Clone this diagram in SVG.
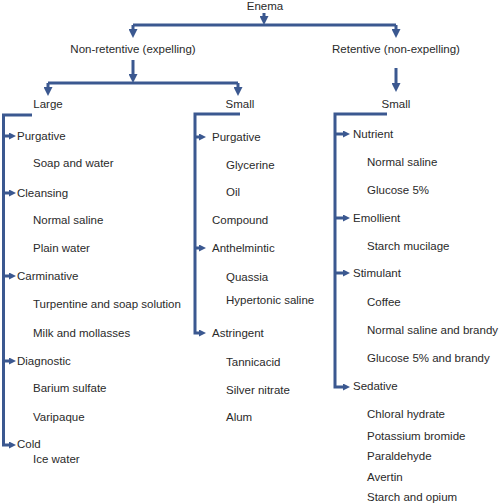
<svg xmlns="http://www.w3.org/2000/svg" width="500" height="504" viewBox="0 0 500 504">
<style>
text{font-family:"Liberation Sans",Arial,sans-serif;font-size:11.5px;fill:#2a2a2a}
.m{text-anchor:middle}
.ln{fill:none;stroke:#3b5890;stroke-width:3}
.dn{marker-end:url(#big)}
.sd{marker-end:url(#sm)}
</style>
<defs>
<marker id="big" markerUnits="userSpaceOnUse" viewBox="0 0 9 9" markerWidth="9" markerHeight="9" refX="4" refY="4.5" orient="auto"><path d="M0,0 L9,4.5 L0,9 z" fill="#3b5890"/></marker>
<marker id="sm" markerUnits="userSpaceOnUse" viewBox="0 0 7 7" markerWidth="7" markerHeight="7" refX="3" refY="3.5" orient="auto"><path d="M0,0 L7,3.5 L0,7 z" fill="#3b5890"/></marker>
</defs>
<rect width="500" height="504" fill="#fff"/>
<g id="connectors">
<path class="ln dn" d="M264,13 V20"/>
<path class="ln" d="M133,25 H396"/>
<path class="ln dn" d="M133,25 V33"/>
<path class="ln dn" d="M396,25 V33"/>
<path class="ln dn" d="M133,60 V78"/>
<path class="ln" d="M48,83 H238"/>
<path class="ln dn" d="M48,83 V91"/>
<path class="ln dn" d="M238,83 V91"/>
<path class="ln dn" d="M396,68 V87"/>
<path class="ln sd" d="M32,115 H3.5 V445 H12"/>
<path class="ln sd" d="M3.5,136 H12"/>
<path class="ln sd" d="M3.5,193 H12"/>
<path class="ln sd" d="M3.5,276 H12"/>
<path class="ln sd" d="M3.5,361 H12"/>
<path class="ln sd" d="M240,114 H195 V333 H202"/>
<path class="ln sd" d="M195,137 H202"/>
<path class="ln sd" d="M195,248 H202"/>
<path class="ln sd" d="M387,114 H335 V387 H346"/>
<path class="ln sd" d="M335,134 H346"/>
<path class="ln sd" d="M335,218 H346"/>
<path class="ln sd" d="M335,273 H346"/>
</g>
<g id="enema"><text class="m" x="265" y="10">Enema</text></g>
<g id="nonret"><text class="m" x="133" y="53">Non-retentive (expelling)</text></g>
<g id="ret"><text class="m" x="396" y="53">Retentive (non-expelling)</text></g>
<g id="large"><text class="m" x="48" y="108">Large</text></g>
<g id="small1"><text class="m" x="240" y="108">Small</text></g>
<g id="small2"><text class="m" x="396" y="108">Small</text></g>
<g id="large-list">
<text x="17" y="140">Purgative</text>
<text x="33" y="167">Soap and water</text>
<text x="17" y="197">Cleansing</text>
<text x="33" y="224">Normal saline</text>
<text x="33" y="252">Plain water</text>
<text x="17" y="280">Carminative</text>
<text x="33" y="308">Turpentine and soap solution</text>
<text x="33" y="337">Milk and mollasses</text>
<text x="17" y="365">Diagnostic</text>
<text x="33" y="392">Barium sulfate</text>
<text x="33" y="421">Varipaque</text>
<text x="17" y="448">Cold</text>
<text x="33" y="463">Ice water</text>
</g>
<g id="small1-list">
<text x="212" y="141">Purgative</text>
<text x="226" y="169">Glycerine</text>
<text x="226" y="196">Oil</text>
<text x="212" y="224">Compound</text>
<text x="212" y="252">Anthelmintic</text>
<text x="226" y="281">Quassia</text>
<text x="226" y="304">Hypertonic saline</text>
<text x="212" y="337">Astringent</text>
<text x="226" y="366">Tannicacid</text>
<text x="226" y="394">Silver nitrate</text>
<text x="226" y="421">Alum</text>
</g>
<g id="small2-list">
<text x="353" y="138">Nutrient</text>
<text x="367" y="166">Normal saline</text>
<text x="367" y="194">Glucose 5%</text>
<text x="353" y="222">Emollient</text>
<text x="367" y="250">Starch mucilage</text>
<text x="353" y="277">Stimulant</text>
<text x="367" y="306">Coffee</text>
<text x="367" y="334">Normal saline and brandy</text>
<text x="367" y="362">Glucose 5% and brandy</text>
<text x="353" y="390">Sedative</text>
<text x="367" y="418">Chloral hydrate</text>
<text x="367" y="440">Potassium bromide</text>
<text x="367" y="460">Paraldehyde</text>
<text x="367" y="481">Avertin</text>
<text x="367" y="501">Starch and opium</text>
</g>
</svg>
